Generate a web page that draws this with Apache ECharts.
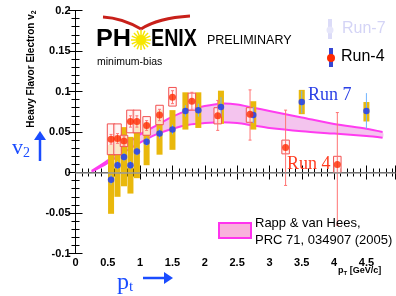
<!DOCTYPE html>
<html>
<head>
<meta charset="utf-8">
<script src="https://cdn.jsdelivr.net/npm/echarts@6/dist/echarts.min.js"></script>
<style>
  html, body { margin: 0; padding: 0; background: #fff; }
  #chart { width: 396px; height: 296px; }
</style>
</head>
<body>
<div id="chart"></div>
<script>
// Run 7 (blue points, gold systematic bars)
const run7Pt = [0.55, 0.65, 0.75, 0.85, 0.95, 1.1, 1.3, 1.5, 1.7, 1.9, 2.25, 2.75, 3.5, 4.5];
const run7V2 = [-0.009, 0.009, 0.019, 0.009, 0.026, 0.038, 0.048, 0.053, 0.076, 0.077, 0.081, 0.071, 0.087, 0.076];
const run7SysLo = [-0.051, -0.030, -0.017, -0.026, -0.007, 0.009, 0.022, 0.028, 0.053, 0.055, 0.060, 0.053, 0.072, 0.063];
const run7SysHi = [0.034, 0.044, 0.056, 0.044, 0.060, 0.062, 0.077, 0.077, 0.099, 0.099, 0.101, 0.088, 0.102, 0.087];
const run7StatLo = [-0.015, 0.004, 0.014, 0.004, 0.021, 0.033, 0.042, 0.047, 0.069, 0.069, 0.069, 0.061, 0.073, 0.054];
const run7StatHi = [-0.003, 0.014, 0.024, 0.014, 0.031, 0.043, 0.054, 0.059, 0.083, 0.085, 0.093, 0.081, 0.101, 0.098];

// Run 4 (red points, open red systematic boxes)
const run4Pt = [0.55, 0.65, 0.75, 0.85, 0.95, 1.1, 1.3, 1.5, 1.8, 2.2, 2.7, 3.25, 4.05];
const run4V2 = [0.041, 0.042, 0.039, 0.063, 0.063, 0.058, 0.071, 0.093, 0.088, 0.070, 0.072, 0.031, 0.010];
const run4SysLo = [0.022, 0.022, 0.032, 0.049, 0.049, 0.046, 0.059, 0.082, 0.077, 0.060, 0.062, 0.023, 0.000];
const run4SysHi = [0.060, 0.060, 0.046, 0.077, 0.077, 0.069, 0.083, 0.105, 0.098, 0.080, 0.080, 0.040, 0.020];
const run4StatLo = [0.035, 0.036, 0.033, 0.056, 0.056, 0.052, 0.064, 0.085, 0.077, 0.052, 0.040, -0.016, -0.065];
const run4StatHi = [0.047, 0.048, 0.045, 0.070, 0.070, 0.064, 0.078, 0.101, 0.099, 0.089, 0.102, 0.077, 0.074];

// Rapp & van Hees band
const bandPt = [0.25, 0.5, 0.75, 1.0, 1.25, 1.5, 1.75, 2.0, 2.25, 2.5, 2.75, 3.0, 3.5, 4.0, 4.5, 4.75];
const bandLo = [0.001, 0.012, 0.025, 0.037, 0.047, 0.054, 0.059, 0.061, 0.062, 0.061, 0.058, 0.055, 0.051, 0.048, 0.045, 0.043];
const bandHi = [0.002, 0.015, 0.032, 0.047, 0.058, 0.069, 0.077, 0.082, 0.085, 0.084, 0.080, 0.076, 0.068, 0.060, 0.054, 0.050];

const xTicks = [0, 0.5, 1, 1.5, 2, 2.5, 3, 3.5, 4, 4.5];
const yTicks = [-0.1, -0.05, 0, 0.05, 0.1, 0.15, 0.2];

const FONT = "Liberation Sans";
const SERIF = "Liberation Serif";

const chart = echarts.init(document.getElementById("chart"), null, { renderer: "canvas" });

function zip(...cols) {
  return cols[0].map((_, i) => cols.map((c) => c[i]));
}

function barItem(width, style) {
  return (params, api) => {
    const top = api.coord([api.value(0), api.value(2)]);
    const bot = api.coord([api.value(0), api.value(1)]);
    return {
      type: "rect",
      shape: { x: top[0] - width / 2, y: top[1], width, height: bot[1] - top[1] },
      style
    };
  };
}

function errItem(color, cap) {
  return (params, api) => {
    const top = api.coord([api.value(0), api.value(2)]);
    const bot = api.coord([api.value(0), api.value(1)]);
    return {
      type: "group",
      children: [
        { type: "line", shape: { x1: top[0], y1: top[1], x2: bot[0], y2: bot[1] }, style: { stroke: color, lineWidth: 1 } },
        { type: "line", shape: { x1: top[0] - cap, y1: top[1], x2: top[0] + cap, y2: top[1] }, style: { stroke: color, lineWidth: 1 } },
        { type: "line", shape: { x1: bot[0] - cap, y1: bot[1], x2: bot[0] + cap, y2: bot[1] }, style: { stroke: color, lineWidth: 1 } }
      ]
    };
  };
}

function bandItem(params, api) {
  if (params.dataIndex !== 0) return null;
  const upper = bandPt.map((x, i) => api.coord([x, bandHi[i]]));
  const lower = bandPt.map((x, i) => api.coord([x, bandLo[i]]));
  return {
    type: "group",
    children: [
      { type: "polygon", shape: { points: upper.concat(lower.slice().reverse()), smooth: 0.3 }, style: { fill: "#f4c4ee" } },
      { type: "polyline", shape: { points: upper, smooth: 0.3 }, style: { stroke: "#ff3cf0", lineWidth: 2, fill: null } },
      { type: "polyline", shape: { points: lower, smooth: 0.3 }, style: { stroke: "#ff3cf0", lineWidth: 2, fill: null } }
    ]
  };
}

const axisCommon = {
  type: "value",
  axisLine: { show: true, lineStyle: { color: "#000", width: 1 } },
  axisTick: { show: true, inside: true, length: 7, lineStyle: { color: "#000" } },
  minorTick: { show: true, splitNumber: 5, length: 4, lineStyle: { color: "#000" } },
  splitLine: { show: false },
  minorSplitLine: { show: false }
};

const labelStyle = { color: "#000", fontFamily: FONT, fontWeight: "bold", fontSize: 11 };

const option = {
  animation: false,
  backgroundColor: "#fff",
  grid: { left: 75.5, right: 0.5, top: 10.5, bottom: 42.5 },
  xAxis: [
    Object.assign({}, axisCommon, {
      min: 0, max: 4.95, interval: 0.5, position: "bottom",
      axisLabel: Object.assign({}, labelStyle, { margin: 4, showMaxLabel: false,
        formatter: (v) => (xTicks.some((t) => Math.abs(t - v) < 1e-6) ? String(v) : "") })
    }),
    Object.assign({}, axisCommon, {
      min: 0, max: 4.95, interval: 0.5, position: "top", axisLabel: { show: false }
    })
  ],
  yAxis: [
    Object.assign({}, axisCommon, {
      min: -0.1, max: 0.2, interval: 0.05, position: "left",
      axisLabel: Object.assign({}, labelStyle, { margin: 5,
        formatter: (v) => String(yTicks.find((t) => Math.abs(t - v) < 1e-6) ?? v) })
    }),
    Object.assign({}, axisCommon, {
      min: -0.1, max: 0.2, interval: 0.05, position: "right", axisLabel: { show: false }
    })
  ],
  series: [
    {
      type: "custom", name: "band", renderItem: bandItem, z: 1,
      data: zip(bandPt, bandLo, bandHi),
      markLine: {
        silent: true, symbol: "none", label: { show: false },
        lineStyle: { color: "#9a9a9a", width: 1.5, type: "solid" },
        data: [{ yAxis: 0 }]
      }
    },
    {
      type: "custom", name: "run7sys", z: 2,
      renderItem: barItem(6, { fill: "#e9b80c" }),
      data: zip(run7Pt, run7SysLo, run7SysHi)
    },
    {
      type: "custom", name: "run4sys", z: 3,
      renderItem: barItem(7.5, { fill: "rgba(255,244,244,0.8)", stroke: "#f25050", lineWidth: 1 }),
      data: zip(run4Pt, run4SysLo, run4SysHi)
    },
    {
      type: "custom", name: "run4stat", z: 4,
      renderItem: errItem("#ff7474", 1.5),
      data: zip(run4Pt, run4StatLo, run4StatHi)
    },
    {
      type: "custom", name: "run7stat", z: 5,
      renderItem: errItem("#6fb4ff", 0),
      data: zip(run7Pt, run7StatLo, run7StatHi)
    },
    {
      type: "scatter", name: "Run-7", z: 6, symbol: "circle", symbolSize: 6.5,
      itemStyle: { color: "#1538ff" },
      data: zip(run7Pt, run7V2)
    },
    {
      type: "scatter", name: "Run-4", z: 7, symbol: "circle", symbolSize: 7,
      itemStyle: { color: "#ff2a00" },
      data: zip(run4Pt, run4V2)
    }
  ],
  graphic: [
    // PHENIX logo
    { type: "bezierCurve", z: 10, shape: { x1: 103, y1: 17, x2: 141, y2: 29, cpx1: 122, cpy1: 18 }, style: { stroke: "#c8201a", lineWidth: 3 } },
    { type: "bezierCurve", z: 10, shape: { x1: 141, y1: 29, x2: 190, y2: 16, cpx1: 158, cpy1: 18 }, style: { stroke: "#c8201a", lineWidth: 3 } },
    { type: "text", z: 10, x: 96, y: 39, scaleX: 1.05, style: { text: "PH", font: "bold 24px " + FONT, fill: "#000", verticalAlign: "middle" } },
    { type: "circle", z: 10, shape: { cx: 141, cy: 40, r: 5 }, style: { fill: "#f6e600" } },
    {
      type: "group", z: 10, x: 141, y: 40,
      children: Array.from({ length: 16 }, (_, i) => ({
        type: "line",
        shape: { x1: 0, y1: 0, x2: 10 * Math.cos(i * Math.PI / 8), y2: 10 * Math.sin(i * Math.PI / 8) },
        style: { stroke: "#f6e600", lineWidth: 1.5 }
      }))
    },
    { type: "text", z: 10, x: 151, y: 39, scaleX: 0.82, style: { text: "ENIX", font: "bold 24px " + FONT, fill: "#000", verticalAlign: "middle" } },
    { type: "text", z: 10, x: 207, y: 41, style: { text: "PRELIMINARY", font: "12.5px " + FONT, fill: "#000", verticalAlign: "middle" } },
    { type: "text", z: 10, x: 97, y: 62, style: { text: "minimum-bias", font: "10.5px " + FONT, fill: "#000", verticalAlign: "middle" } },
    // legend top right
    { type: "rect", z: 10, shape: { x: 328, y: 19, width: 4, height: 20 }, style: { fill: "#dcdcf8" } },
    { type: "circle", z: 10, shape: { cx: 330, cy: 30, r: 3.5 }, style: { fill: "#e6e6fa" } },
    { type: "text", z: 10, x: 342, y: 29, style: { text: "Run-7", font: "16px " + FONT, fill: "#d4d4f6", verticalAlign: "middle" } },
    { type: "rect", z: 10, shape: { x: 329, y: 48, width: 4, height: 19 }, style: { fill: "#3646d2" } },
    { type: "circle", z: 10, shape: { cx: 331, cy: 58, r: 4 }, style: { fill: "#ff2a00" } },
    { type: "text", z: 10, x: 341, y: 57, style: { text: "Run-4", font: "16px " + FONT, fill: "#000", verticalAlign: "middle" } },
    // annotations
    { type: "text", z: 10, x: 308, y: 95, style: { text: "Run 7", font: "18px " + SERIF, fill: "#2b40e6", verticalAlign: "middle" } },
    { type: "text", z: 10, x: 287, y: 164, style: { text: "Run 4", font: "18px " + SERIF, fill: "#ff3a1e", verticalAlign: "middle" } },
    // theory legend
    { type: "rect", z: 10, shape: { x: 219, y: 223, width: 32, height: 15 }, style: { fill: "#f9b2dc", stroke: "#ff33ee", lineWidth: 2 } },
    { type: "text", z: 10, x: 255, y: 223, style: { text: "Rapp & van Hees,", font: "13px " + FONT, fill: "#000", verticalAlign: "middle" } },
    { type: "text", z: 10, x: 255, y: 240, style: { text: "PRC 71, 034907 (2005)", font: "13px " + FONT, fill: "#000", verticalAlign: "middle" } },
    // axis titles
    {
      type: "text", z: 10, x: 31, y: 69, rotation: Math.PI / 2,
      style: {
        text: "Heavy Flavor Electron v{s|2}", align: "center", verticalAlign: "middle",
        font: "bold 10px " + FONT, fill: "#000",
        rich: { s: { fontSize: 7, fontWeight: "bold", fontFamily: FONT, verticalAlign: "bottom", padding: [6, 0, 0, 0] } }
      }
    },
    {
      type: "text", z: 10, x: 338, y: 271,
      style: {
        text: "p{s|T} [GeV/c]", verticalAlign: "middle", font: "bold 9px " + FONT, fill: "#000",
        rich: { s: { fontSize: 6, fontWeight: "bold", fontFamily: FONT, padding: [5, 0, 0, 0] } }
      }
    },
    {
      type: "text", z: 10, x: 12, y: 148,
      style: {
        text: "v{s|2}", verticalAlign: "middle", font: "22px " + SERIF, fill: "#1a4cff",
        rich: { s: { fontSize: 14, fontFamily: SERIF, fill: "#1a4cff", padding: [10, 0, 0, 0] } }
      }
    },
    { type: "line", z: 10, shape: { x1: 40, y1: 161, x2: 40, y2: 136 }, style: { stroke: "#1a4cff", lineWidth: 2.5 } },
    { type: "polygon", z: 10, shape: { points: [[34, 140], [40, 131], [46, 140]] }, style: { fill: "#1a4cff" } },
    {
      type: "text", z: 10, x: 117, y: 283,
      style: {
        text: "p{s|t}", verticalAlign: "middle", font: "24px " + SERIF, fill: "#1a4cff",
        rich: { s: { fontSize: 15, fontFamily: SERIF, fill: "#1a4cff", padding: [8, 0, 0, 0] } }
      }
    },
    { type: "line", z: 10, shape: { x1: 143, y1: 278, x2: 167, y2: 278 }, style: { stroke: "#1a4cff", lineWidth: 2.5 } },
    { type: "polygon", z: 10, shape: { points: [[164, 272], [173, 278], [164, 284]] }, style: { fill: "#1a4cff" } }
  ]
};

chart.setOption(option);
</script>
</body>
</html>
